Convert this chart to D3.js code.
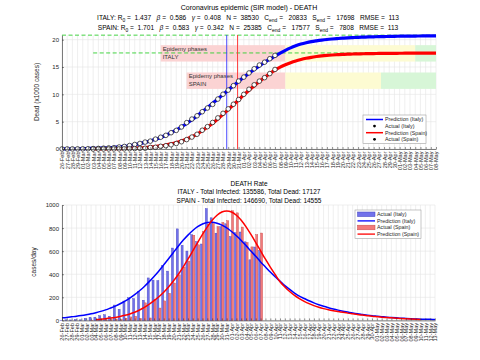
<!DOCTYPE html>
<html><head><meta charset="utf-8">
<script src="https://cdn.jsdelivr.net/npm/d3@7"></script>
<style>body{margin:0;background:#fff}svg{display:block;font-family:"Liberation Sans",Arial,sans-serif}.pre{white-space:pre}</style>
</head><body><svg id="c" width="480" height="360"></svg>
<script>
// ---------- DATA ----------
const startDate = "2020-02-26";
const topEndDate = "2020-05-08";
const bottomEndDate = "2020-05-13";
const spainStartDate = "2020-03-03";
const spainPredDailyStart = "2020-03-04";

// cumulative deaths (thousands), from Feb 26
const italyActualCum = [0.012,0.017,0.021,0.029,0.034,0.052,0.079,0.107,0.148,0.197,0.233,0.366,0.463,0.631,0.827,1.016,1.266,1.441,1.809,2.158,2.503,2.978,3.405,4.032,4.825,5.476,6.077,6.820,7.503,8.165,9.134,10.023,10.779,11.591,12.428,13.155,13.915,14.681,15.362,15.887,16.523,17.127];
// from Mar 3
const spainActualCum = [0.002,0.003,0.005,0.010,0.017,0.028,0.035,0.054,0.084,0.120,0.136,0.288,0.309,0.491,0.598,0.767,1.002,1.326,1.720,2.182,2.696,3.434,4.089,4.858,5.690,6.528,7.340,8.189,9.053,10.003,10.935,11.744,12.418,13.055,13.798,14.555];
// predictions (thousands), Italy from Feb 26, Spain from Mar 3
const italyPredCum = [0.02,0.03,0.04,0.05,0.07,0.09,0.12,0.15,0.19,0.24,0.30,0.38,0.48,0.60,0.80,0.99,1.21,1.47,1.77,2.12,2.52,2.97,3.48,4.05,4.67,5.34,6.05,6.80,7.57,8.36,9.16,9.97,10.78,11.58,12.36,13.12,13.85,14.55,15.21,15.84,16.43,16.98,17.55,18.05,18.50,18.88,19.20,19.45,19.65,19.80,19.93,20.04,20.13,20.21,20.28,20.34,20.39,20.43,20.47,20.50,20.53,20.56,20.58,20.60,20.62,20.64,20.65,20.66,20.67,20.68,20.69,20.70,20.71];
const spainPredCum = [0.01,0.02,0.03,0.04,0.05,0.07,0.09,0.12,0.16,0.21,0.27,0.35,0.45,0.58,0.74,0.94,1.18,1.47,1.82,2.23,2.71,3.35,4.00,4.72,5.50,6.33,7.20,8.09,8.99,9.89,10.76,11.59,12.37,13.10,13.80,14.45,14.98,15.42,15.80,16.12,16.38,16.60,16.78,16.92,17.04,17.13,17.20,17.26,17.31,17.35,17.38,17.41,17.43,17.45,17.47,17.48,17.49,17.50,17.51,17.52,17.53,17.54,17.54,17.55,17.55,17.56,17.56];
const italyCend = 20.833, spainCend = 17.577;
const italyPeak = "2020-03-28T17:00", spainPeak = "2020-03-30T19:00";
// epidemic phase boundaries [start pink, start yellow, start green]
const italyPhases = ["2020-03-16","2020-04-09","2020-05-04"];
const spainPhases = ["2020-03-21","2020-04-09","2020-04-27T10:00"];
const italyBand = [16,19], spainBand = [11,14];

// daily deaths; Italy from Feb 26, Spain from Mar 3
const italyDaily = [2,5,4,8,5,18,27,28,41,49,36,133,97,168,196,189,250,175,368,349,345,475,427,627,793,651,601,743,683,662,969,889,756,812,837,727,760,766,681,525,636,604];
const spainDaily = [1,1,2,5,7,11,7,19,30,36,16,152,21,182,107,169,235,324,394,462,514,738,655,769,832,838,812,849,864,950,932,809,674,637,743,757];
// predicted daily, Italy from Feb 26, Spain from Mar 4
const italyPredDaily = [22,26,31,36,42,49,57,67,78,91,107,124,144,167,193,223,257,294,336,381,429,481,534,589,643,694,739,779,812,835,848,850,842,825,801,770,733,693,648,601,555,507,463,419,378,340,301,269,237,210,190,170,152,136,122,110,99,89,80,72,64,57,51,45,40,36,32,28,25,22,19,17,15,13,11,10,9,8];
const spainPredDaily = [8,11,15,20,26,34,44,56,71,90,113,140,171,205,244,289,341,398,462,530,602,675,745,811,868,911,939,948,939,911,868,811,745,675,602,530,462,398,335,290,250,216,188,165,145,128,114,102,92,84,77,70,63,57,51,46,41,36,32,28,25,22,19,16,14,12,10,8];

const topYTicks = [0,5,10,15,20];
const botYTicks = [0,200,400,600,800,1000];

// ---------- DRAW ----------
const P = d3.timeParse("%Y-%m-%d");
const PT = d3.isoParse;
const day = (s,i)=>d3.timeDay.offset(P(s),i);
const fmt = d3.timeFormat("%d-%b");
const svg = d3.select("#c");
const txt = "#262626", grid = "#e4e4e4";

// Titles
function sup(t, parts, x, y, fs){
  const el = t.append("text").attr("class","pre").attr("x",x).attr("y",y).attr("text-anchor","middle").attr("font-size",fs).attr("fill","#000");
  parts.forEach(p=>{
    const s = el.append("tspan").text(p[0]);
    if(p[1]==="sub") s.attr("baseline-shift","-30%").attr("font-size",fs*0.75);
    if(p[1]==="it") s.attr("font-style","italic");
  });
}
svg.append("text").attr("x",249).attr("y",10).attr("text-anchor","middle").attr("font-size",7).text("Coronavirus epidemic (SIR model) - DEATH");
sup(svg,[["ITALY: R"],["0","sub"],[" =  1.437   "],["β","it"],[" =  0.586   "],["γ","it"],[" =  0.408   N =  38530   C"],["end","sub"],[" =   20833   S"],["end","sub"],[" =   17698   RMSE =  113"]],248,20,6.6);
sup(svg,[["SPAIN: R"],["0","sub"],[" =  1.701   "],["β","it"],[" =  0.583   "],["γ","it"],[" =  0.342   N =  25385   C"],["end","sub"],[" =   17577   S"],["end","sub"],[" =   7808   RMSE =  113"]],248,29.5,6.6);

// ===== TOP CHART =====
const tx = d3.scaleTime().domain([P(startDate),P(topEndDate)]).range([62,436]);
const ty = d3.scaleLinear().domain([0,italyCend]).range([149,35.15]);
const topDays = d3.timeDay.range(P(startDate), d3.timeDay.offset(P(topEndDate),1));
const gT = svg.append("g");
gT.selectAll(".vg").data(topDays).join("line").attr("x1",d=>tx(d)).attr("x2",d=>tx(d)).attr("y1",35).attr("y2",149).attr("stroke",grid).attr("stroke-width",0.6);
gT.selectAll(".hg").data(topYTicks).join("line").attr("x1",62).attr("x2",436).attr("y1",d=>ty(d)).attr("y2",d=>ty(d)).attr("stroke",grid).attr("stroke-width",0.6);

// phase bands
function bands(ph, band){
  const ends = [P(ph[0]), PT(ph[1].length>10?ph[1]:ph[1]+"T00:00"), PT(ph[2].length>10?ph[2]:ph[2]+"T00:00"), P(topEndDate)];
  const cols = ["#fbd3d3","#fdfbd2","#d7f6d7"];
  for(let i=0;i<3;i++){
    gT.append("rect").attr("x",tx(ends[i])).attr("width",tx(ends[i+1])-tx(ends[i]))
      .attr("y",ty(band[1])).attr("height",ty(band[0])-ty(band[1])).attr("fill",cols[i]);
  }
  return tx(ends[0]);
}
const ix = bands(italyPhases, italyBand);
const sx = bands(spainPhases, spainBand);
gT.append("text").attr("x",ix+2).attr("y",ty(italyBand[1])+6).attr("font-size",6).attr("fill","#333").text("Epidemy phases");
gT.append("text").attr("x",ix+2).attr("y",ty(italyBand[1])+13.5).attr("font-size",6).attr("fill","#333").text("ITALY");
gT.append("text").attr("x",sx+2).attr("y",ty(spainBand[1])+6).attr("font-size",6).attr("fill","#333").text("Epidemy phases");
gT.append("text").attr("x",sx+2).attr("y",ty(spainBand[1])+13.5).attr("font-size",6).attr("fill","#333").text("SPAIN");

// Cend dashed lines
gT.append("line").attr("x1",tx(P(startDate))).attr("x2",436).attr("y1",ty(italyCend)).attr("y2",ty(italyCend)).attr("stroke","#2fcf2f").attr("stroke-dasharray","4,2.5").attr("stroke-width",0.9);
gT.append("line").attr("x1",tx(P(spainStartDate))).attr("x2",436).attr("y1",ty(spainCend)).attr("y2",ty(spainCend)).attr("stroke","#2fcf2f").attr("stroke-dasharray","4,2.5").attr("stroke-width",0.9);

// peak lines
gT.append("line").attr("x1",tx(PT(italyPeak))).attr("x2",tx(PT(italyPeak))).attr("y1",35).attr("y2",149).attr("stroke","#3a3aff").attr("stroke-width",0.9);
gT.append("line").attr("x1",tx(PT(spainPeak))).attr("x2",tx(PT(spainPeak))).attr("y1",35).attr("y2",149).attr("stroke","#ff3030").attr("stroke-width",0.9);

const lineT = (s)=>d3.line().x((d,i)=>tx(day(s,i))).y(d=>ty(d)).curve(d3.curveMonotoneX);
gT.append("path").attr("d",lineT(startDate)(italyPredCum)).attr("fill","none").attr("stroke","#0000ff").attr("stroke-width",3.2);
gT.append("path").attr("d",lineT(spainStartDate)(spainPredCum)).attr("fill","none").attr("stroke","#ff0000").attr("stroke-width",3.2);
function dots(arr,s){
  gT.append("g").selectAll("circle").data(arr).join("circle").attr("cx",(d,i)=>tx(day(s,i))).attr("cy",d=>ty(d)).attr("r",2.3)
    .attr("fill","#fff").attr("stroke","#111").attr("stroke-width",0.7);
}
dots(italyActualCum,startDate);
dots(spainActualCum,spainStartDate);

// axes top
const axT = gT.append("g").attr("transform","translate(0,149)").call(d3.axisBottom(tx).tickValues(topDays).tickFormat(fmt).tickSizeInner(-2).tickSizeOuter(0));
axT.selectAll("text").attr("transform","rotate(-90)").attr("text-anchor","end").attr("x",-2.5).attr("y",0).attr("dy","0.35em").attr("font-size",5.6).attr("fill",txt);
axT.select(".domain").attr("stroke",txt).attr("stroke-width",0.6);
axT.selectAll(".tick line").attr("stroke",txt).attr("stroke-width",0.5);
const ayT = gT.append("g").attr("transform","translate(62,0)").call(d3.axisLeft(ty).tickValues(topYTicks).tickFormat(d3.format("d")).tickSizeInner(-2).tickSizeOuter(0));
ayT.selectAll("text").attr("font-size",6).attr("fill",txt).attr("x",-3);
ayT.select(".domain").attr("stroke",txt).attr("stroke-width",0.6);
ayT.selectAll(".tick line").attr("stroke",txt).attr("stroke-width",0.5);
svg.append("text").attr("transform","translate(39,92) rotate(-90)").attr("text-anchor","middle").attr("font-size",6.5).attr("fill",txt).text("Dead (x1000 cases)");

// legend top
const lgT = svg.append("g").attr("transform","translate(363,115)");
lgT.append("rect").attr("width",63).attr("height",28.5).attr("fill","#fff").attr("stroke","#a0a0a0").attr("stroke-width",0.6);
const legTop = [["Prediction (Italy)","line","#0000ff"],["Actual (Italy)","dot"],["Prediction (Spain)","line","#ff0000"],["Actual (Spain)","dot"]];
legTop.forEach((e,i)=>{
  const y = 4.5+i*6.6;
  if(e[1]==="line") lgT.append("line").attr("x1",3).attr("x2",20).attr("y1",y).attr("y2",y).attr("stroke",e[2]).attr("stroke-width",1.5);
  else lgT.append("circle").attr("cx",11.5).attr("cy",y).attr("r",1.4).attr("fill","#000");
  lgT.append("text").attr("x",22).attr("y",y).attr("dy","0.35em").attr("font-size",5.3).attr("fill",txt).text(e[0]);
});

// ===== BOTTOM CHART =====
svg.append("text").attr("x",249).attr("y",186).attr("text-anchor","middle").attr("font-size",6.5).text("DEATH Rate");
svg.append("text").attr("x",249).attr("y",194).attr("text-anchor","middle").attr("font-size",6.5).text("ITALY - Total Infected: 135586, Total Dead: 17127");
svg.append("text").attr("x",249).attr("y",202.5).attr("text-anchor","middle").attr("font-size",6.5).text("SPAIN - Total Infected: 146690, Total Dead: 14555");

const bx = d3.scaleTime().domain([P(startDate),P(bottomEndDate)]).range([62,435]);
const by = d3.scaleLinear().domain([0,1000]).range([320.4,205]);
const botDays = d3.timeDay.range(P(startDate), d3.timeDay.offset(P(bottomEndDate),1));
const gB = svg.append("g");
gB.selectAll(".vg").data(botDays).join("line").attr("x1",d=>bx(d)).attr("x2",d=>bx(d)).attr("y1",205).attr("y2",320.4).attr("stroke",grid).attr("stroke-width",0.6);
gB.selectAll(".hg").data(botYTicks).join("line").attr("x1",62).attr("x2",435).attr("y1",d=>by(d)).attr("y2",d=>by(d)).attr("stroke",grid).attr("stroke-width",0.6);
const step = bx(day(startDate,1))-bx(P(startDate));
const bw = step*0.42;
gB.append("g").selectAll("rect").data(italyDaily).join("rect")
  .attr("x",(d,i)=>bx(day(startDate,i))-bw).attr("width",bw).attr("y",d=>by(d)).attr("height",d=>by(0)-by(d))
  .attr("fill","#7272ea").attr("stroke","#4343c0").attr("stroke-width",0.4);
gB.append("g").selectAll("rect").data(spainDaily).join("rect")
  .attr("x",(d,i)=>bx(day(spainStartDate,i))).attr("width",bw).attr("y",d=>by(d)).attr("height",d=>by(0)-by(d))
  .attr("fill","#f27a7a").attr("stroke","#c84a4a").attr("stroke-width",0.4);
const lineB = (s)=>d3.line().x((d,i)=>bx(day(s,i))).y(d=>by(d)).curve(d3.curveMonotoneX);
gB.append("path").attr("d",lineB(startDate)(italyPredDaily)).attr("fill","none").attr("stroke","#0000ff").attr("stroke-width",1.5);
gB.append("path").attr("d",lineB(spainPredDailyStart)(spainPredDaily)).attr("fill","none").attr("stroke","#ff0000").attr("stroke-width",1.5);

const axB = gB.append("g").attr("transform","translate(0,320.4)").call(d3.axisBottom(bx).tickValues(botDays).tickFormat(fmt).tickSizeInner(-2).tickSizeOuter(0));
axB.selectAll("text").attr("transform","rotate(-90)").attr("text-anchor","end").attr("x",-2.5).attr("y",0).attr("dy","0.35em").attr("font-size",5.6).attr("fill",txt);
axB.select(".domain").attr("stroke",txt).attr("stroke-width",0.6);
axB.selectAll(".tick line").attr("stroke",txt).attr("stroke-width",0.5);
const ayB = gB.append("g").attr("transform","translate(62,0)").call(d3.axisLeft(by).tickValues(botYTicks).tickFormat(d3.format("d")).tickSizeInner(-2).tickSizeOuter(0));
ayB.selectAll("text").attr("font-size",6).attr("fill",txt).attr("x",-3);
ayB.select(".domain").attr("stroke",txt).attr("stroke-width",0.6);
ayB.selectAll(".tick line").attr("stroke",txt).attr("stroke-width",0.5);
svg.append("text").attr("transform","translate(36,262) rotate(-90)").attr("text-anchor","middle").attr("font-size",6.5).attr("fill",txt).text("cases/day");

// legend bottom
const lgB = svg.append("g").attr("transform","translate(355,210)");
lgB.append("rect").attr("width",66).attr("height",28.5).attr("fill","#fff").attr("stroke","#a0a0a0").attr("stroke-width",0.6);
const legBot = [["Actual (Italy)","bar","#7272ea","#4343c0"],["Prediction (Italy)","line","#0000ff"],["Actual (Spain)","bar","#f27a7a","#c84a4a"],["Prediction (Spain)","line","#ff0000"]];
legBot.forEach((e,i)=>{
  const y = 4.3+i*6.6;
  if(e[1]==="line") lgB.append("line").attr("x1",2.5).attr("x2",20).attr("y1",y).attr("y2",y).attr("stroke",e[2]).attr("stroke-width",1.3);
  else lgB.append("rect").attr("x",2.5).attr("y",y-2.3).attr("width",17.5).attr("height",4.6).attr("fill",e[2]).attr("stroke",e[3]).attr("stroke-width",0.5);
  lgB.append("text").attr("x",22).attr("y",y).attr("dy","0.35em").attr("font-size",5.3).attr("fill",txt).text(e[0]);
});
</script></body></html>
